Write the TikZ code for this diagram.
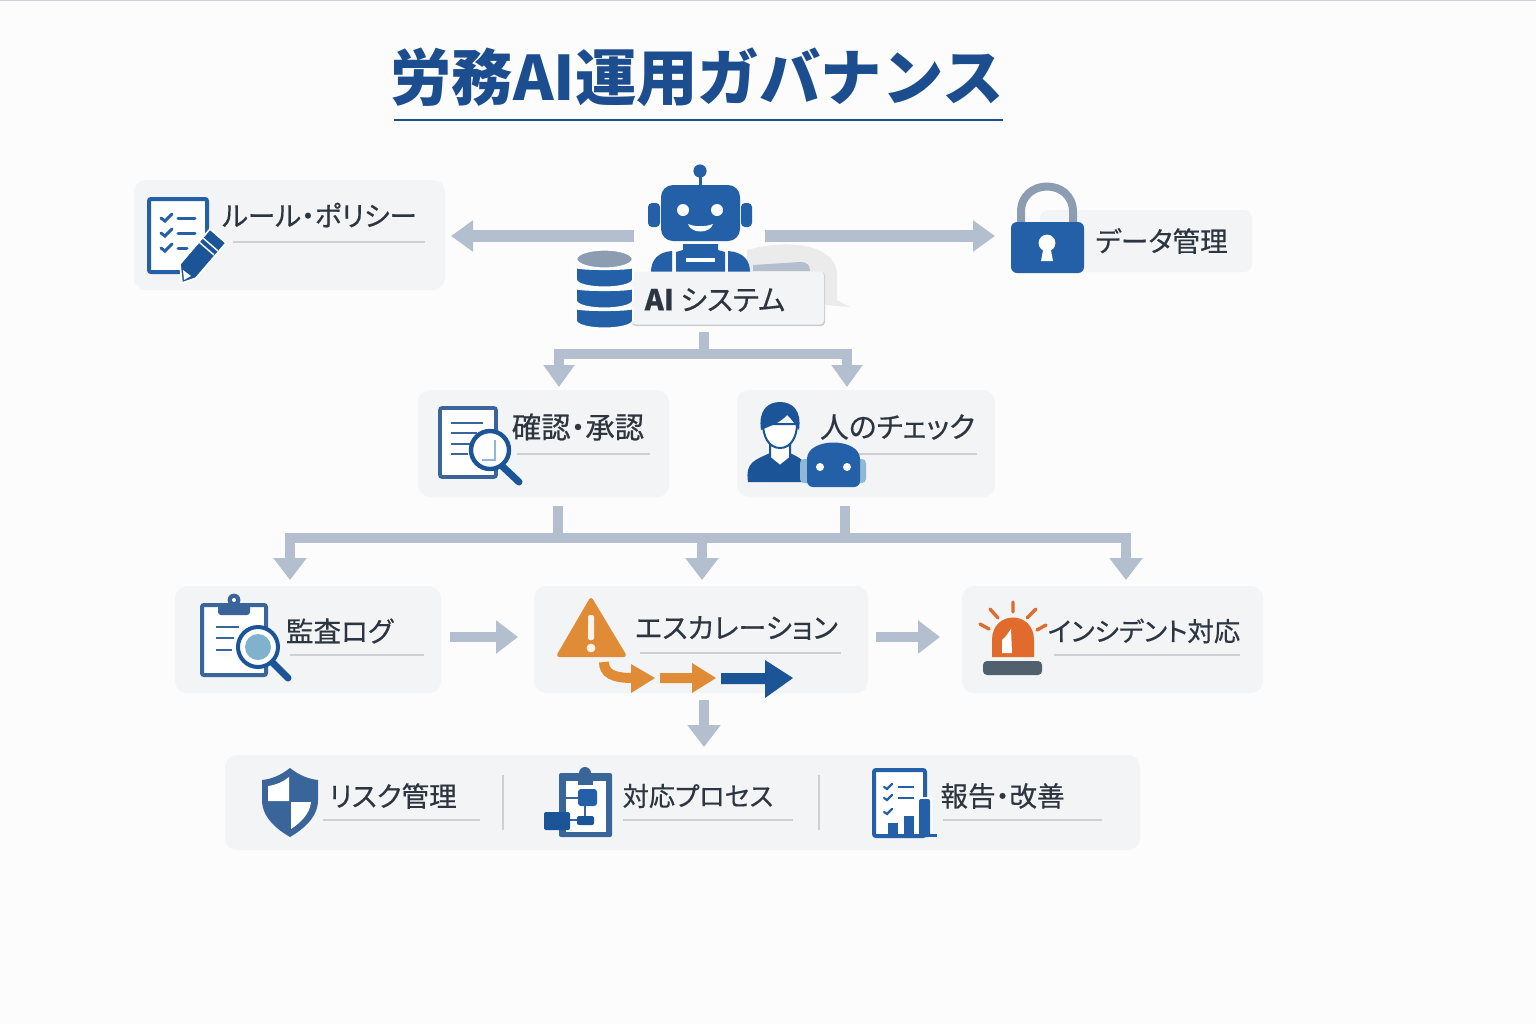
\documentclass[tikz,border=0pt]{standalone}
\usepackage{xcolor}
\usepackage{fontspec}
\usepackage{tikz}
\usetikzlibrary{arrows.meta}
\setmainfont{Noto Sans CJK JP}
\newfontfamily\capfont{Noto Sans CJK JP}[FakeBold=0.4,RawFeature={+palt}]

\definecolor{titleblue}{HTML}{1C4E8F}
\definecolor{robotblue}{HTML}{2360A8}
\definecolor{darkblue}{HTML}{1B5597}
\definecolor{slateblue}{HTML}{3A659A}
\definecolor{paleblue}{HTML}{8FB8D6}
\definecolor{panelgray}{HTML}{F3F4F6}
\definecolor{flowgray}{HTML}{B3BFCE}
\definecolor{steelgray}{HTML}{8C9DB2}
\definecolor{rulegray}{HTML}{CDD1D6}
\definecolor{inkgray}{HTML}{2D3640}
\definecolor{warnorange}{HTML}{E08C37}
\definecolor{sirenred}{HTML}{E06B2D}
\definecolor{basegray}{HTML}{50606F}

\tikzset{
  panel/.style={rectangle, rounded corners=6pt, fill=panelgray, inner sep=0pt},
  capt/.style={text=inkgray, inner sep=0pt, font=\capfont\fontsize{#1pt}{16pt}\selectfont},
  capt/.default=13.8,
  rulel/.style={draw=rulegray, line width=0.6pt},
  bar/.style={draw=flowgray, line width=5pt},
  flow/.style={draw=flowgray, line width=5pt, -{Triangle[length=11pt,width=16pt]}},
  flowtop/.style={draw=flowgray, line width=5pt, -{Triangle[length=11pt,width=15pt]}},
  flowbig/.style={draw=flowgray, line width=6pt, -{Triangle[length=11pt,width=15pt]}},
  tick/.style={draw=robotblue, line width=1.5pt, line cap=round},
}

\begin{document}
\begin{tikzpicture}[x=0.5pt,y=-0.5pt]
\useasboundingbox (0,0) rectangle (1536,1024);
\fill[white!99!black] (0,0) rectangle (1536,1024);
\draw[rulegray, line width=0.5pt] (0,0.5) -- (1536,0.5);

% Title
\node[text=titleblue, inner sep=0pt, font=\fontsize{30.7pt}{36pt}\selectfont\bfseries] (title) at (697,77) {労務AI運用ガバナンス};
\draw[titleblue, line width=1pt] (394,120) -- (1003,120);

% Panels
\node[panel, minimum width=155.5pt, minimum height=55pt] (rules) at (289.5,235) {};
\node[panel, minimum width=125.5pt, minimum height=53.5pt] (check) at (543.5,443.5) {};
\node[panel, minimum width=129pt, minimum height=53.5pt] (human) at (866,443.5) {};
\node[panel, minimum width=133pt, minimum height=53.5pt] (logs) at (308,639.5) {};
\node[panel, minimum width=167pt, minimum height=53.5pt] (escal) at (701,639.5) {};
\node[panel, minimum width=150.5pt, minimum height=53.5pt] (incid) at (1112.5,639.5) {};
\node[panel, minimum width=457.5pt, minimum height=47.5pt] (bottom) at (682.5,802.5) {};
\node[panel, rounded corners=4pt, minimum width=106pt, minimum height=31pt] (data) at (1146,241) {};

% Labels
\node[capt] (trules) at (319.5,215) {ルール・ポリシー};
\node[capt] (tdata) at (1161.5,241) {データ管理};
\node[capt=14.7] (tcheck) at (578,427) {確認・承認};
\node[capt=14.4] (thuman) at (897.5,427) {人のチェック};
\node[capt] (tlogs) at (339.5,631) {監査ログ};
\node[capt=14.1] (tescal) at (736.5,628) {エスカレーション};
\node[capt=13.2] (tincid) at (1144,631) {インシデント対応};
\node[capt] (trisk) at (393,796) {リスク管理};
\node[capt=13.1] (tproc) at (698,796) {対応プロセス};
\node[capt] (trepo) at (1002.5,796) {報告・改善};

% Label rules
\draw[rulel] (233,242) -- (425,242);
\draw[rulel] (517,454) -- (650,454);
\draw[rulel] (815,454) -- (977,454);
\draw[rulel] (290,655) -- (424,655);
\draw[rulel] (640,653) -- (841,653);
\draw[rulel] (1054,655) -- (1240,655);
\draw[rulel] (323,820) -- (480,820);
\draw[rulel] (623,820) -- (793,820);
\draw[rulel] (943,820) -- (1102,820);
\draw[rulel] (503,775) -- (503,830);
\draw[rulel] (819,775) -- (819,830);

% Coordinates of the connectors
\coordinate (robl) at (634,236);
\coordinate (robr) at (765,236);
\coordinate (rulein) at (451,236);
\coordinate (datain) at (995,236);
\coordinate (aiout) at (704,332);
\coordinate (busa) at (704,354);
\coordinate (chkin) at (559,387);
\coordinate (humin) at (847,387);
\coordinate (chkout) at (558,506);
\coordinate (humout) at (845,506);
\coordinate (busb) at (558,538);
\coordinate (busc) at (845,538);
\coordinate (busm) at (702,538);
\coordinate (login) at (290,580);
\coordinate (escin) at (702,580);
\coordinate (incin) at (1126,580);
\coordinate (logr) at (450,637);
\coordinate (escl) at (518,637);
\coordinate (escr) at (876,637);
\coordinate (incl) at (940,637);
\coordinate (escd) at (704,700);
\coordinate (botin) at (704,747);

% Edges
\draw[flowbig] (robl) -- (rulein);
\draw[flowbig] (robr) -- (datain);
\draw[bar] (aiout) -- (busa);
\draw[flowtop] (busa) -| (chkin);
\draw[flowtop] (busa) -| (humin);
\draw[bar] (chkout) -- (busb);
\draw[bar] (humout) -- (busc);
\draw[flow] (busb) -| (login);
\draw[bar] (busb) -- (busc);
\draw[flow] (busc) -| (incin);
\draw[flow] (busm) -- (escin);
\draw[flow] (logr) -- (escl);
\draw[flow] (escr) -- (incl);
\draw[flow] (escd) -- (botin);

% AI system: pale shape behind, robot, box, database
\fill[black!8] (747,250) .. controls (790,238) and (837,245) .. (837,275) -- (837,300) -- (850,307) -- (825,305) -- (747,290) -- cycle;
\fill[flowgray] (753,265) -- (800,262) .. controls (808,262) and (810,266) .. (810,271) -- (753,271) -- cycle;
\fill[robotblue] (700,171) circle[radius=3.3pt];
\draw[robotblue, line width=1.5pt] (700,171) -- (700,186);
\fill[robotblue, rounded corners=2pt] (648,203) rectangle (660,227);
\fill[robotblue, rounded corners=2pt] (741,203) rectangle (752,227);
\fill[robotblue, rounded corners=6pt] (661,185) rectangle (740,241);
\fill[white] (683,210) circle[radius=3pt];
\fill[white] (717,210) circle[radius=3pt];
\fill[white] (688,224) .. controls (695,227) and (705,227) .. (713,224) .. controls (710,234) and (691,234) .. (688,224) -- cycle;
\fill[robotblue] (683,244) -- (718,244) -- (718,250) -- (725,252) -- (725,272) -- (676,272) -- (676,252) -- (683,250) -- cycle;
\fill[white] (686,258) rectangle (715,262);
\fill[robotblue] (651,272) .. controls (651,260) and (658,252) .. (672,251) -- (672,272) -- cycle;
\fill[robotblue] (750,272) .. controls (750,260) and (743,252) .. (728,251) -- (728,272) -- cycle;
\node[rectangle, rounded corners=2pt, fill=black!20, minimum width=96.5pt, minimum height=27pt, inner sep=0pt] (aishadow) at (728.5,299) {};
\node[panel, rounded corners=2pt, minimum width=96pt, minimum height=26.5pt] (ai) at (728,298) {};
\node[capt=14.4] (tai) at (715,300) {\textbf{AI} システム};
\foreach \yb in {308,288,267} {
  \fill[robotblue, draw=white, line width=0.8pt] (576,\yb) .. controls (576,\yb+3) and (633,\yb+3) .. (633,\yb) -- (633,\yb+12) .. controls (633,\yb+23) and (576,\yb+23) .. (576,\yb+12) -- cycle;
}
\fill[steelgray, draw=white, line width=0.8pt] (604.5,259) ellipse[x radius=14pt, y radius=4.6pt];

% Rule icon
\fill[white, draw=robotblue, line width=2pt, rounded corners=1pt] (149,199) rectangle (207,272);
\foreach \yc in {218,233,248} {
  \draw[tick] (161,\yc) -- (165,\yc+3) -- (172,\yc-4);
}
\draw[tick] (178,218) -- (195,218);
\draw[tick] (178,233) -- (195,233);
\draw[tick] (178,248) -- (187,248);
\fill[panelgray] (209,240) -- (212,276) -- (186,276) -- cycle;
\fill[darkblue, draw=white, line width=0.8pt] (210,229) -- (226,243) -- (196,278) -- (182,283) -- (180,264) -- cycle;
\draw[white, line width=0.7pt] (199,242) -- (214,255) (203,238) -- (218,251);
\fill[white] (183,270) -- (191,276) -- (184,280) -- cycle;

% Lock icon
\draw[steelgray, line width=4pt] (1021,222) -- (1021,212) .. controls (1021,178) and (1073,178) .. (1073,212) -- (1073,222);
\fill[robotblue, rounded corners=3pt] (1011,222) rectangle (1084,273);
\fill[white] (1047,243) circle[radius=4.2pt];
\fill[white] (1044,245) -- (1050,245) -- (1053,261) -- (1041,261) -- cycle;

% Check icon
\fill[white, draw=slateblue, line width=1.8pt, rounded corners=1pt] (440,408) rectangle (496,477);
\draw[slateblue, line width=1.2pt] (451,423) -- (483,423) (451,433) -- (477,433) (451,444) -- (470,444) (451,454) -- (468,454);
\draw[darkblue, line width=3.5pt, line cap=round] (502,466) -- (519,482);
\fill[white, draw=darkblue, line width=2.2pt] (490,450) circle[radius=9.5pt];
\draw[paleblue, line width=1.2pt] (495,440) -- (495,460) -- (482,460);

% Person with small robot
\fill[darkblue] (748,482) .. controls (745,462) and (755,460) .. (770,453) -- (790,453) .. controls (800,458) and (810,462) .. (812,482) -- cycle;
\fill[white, draw=darkblue, line width=1pt] (770,445) -- (790,445) -- (790,458) -- (780,466) -- (770,458) -- cycle;
\fill[white, draw=darkblue, line width=1pt] (780,448) .. controls (768,448) and (763,435) .. (763,424) -- (797,424) .. controls (797,435) and (792,448) .. (780,448) -- cycle;
\fill[darkblue] (761,430) .. controls (758,410) and (768,402) .. (780,402) .. controls (792,402) and (802,410) .. (799,430) .. controls (795,425) and (793,420) .. (787,415) .. controls (780,423) and (770,426) .. (761,430) -- cycle;
\fill[paleblue, rounded corners=2pt] (800,459) rectangle (866,483);
\fill[robotblue, rounded corners=3pt] (807,487) -- (807,465) .. controls (807,437) and (860,437) .. (860,465) -- (860,487) -- cycle;
\fill[white] (820,467) circle[radius=2pt];
\fill[white] (847,467) circle[radius=2pt];

% Log icon
\fill[white, draw=slateblue, line width=2pt, rounded corners=1pt] (202,605) rectangle (266,675);
\fill[slateblue, rounded corners=1.5pt] (218,603) rectangle (250,615);
\fill[slateblue] (234,600) circle[radius=3.2pt];
\fill[white] (234,600) circle[radius=1pt];
\draw[slateblue, line width=1.3pt] (216,627) -- (239,627) (216,638) -- (234,638) (216,650) -- (232,650);
\draw[darkblue, line width=3.5pt, line cap=round] (272,662) -- (288,678);
\fill[white, draw=darkblue, line width=2pt] (258,647) circle[radius=10pt];
\fill[paleblue!90!teal] (258,647) circle[radius=6.5pt];

% Warning icon with arrows
\fill[warnorange, draw=warnorange, line width=2pt, line join=round] (591,600) -- (624,655) -- (559,655) -- cycle;
\fill[white!90!warnorange, rounded corners=1pt] (588,615) rectangle (594,640);
\fill[white!90!warnorange] (591,648) circle[radius=2.2pt];
\draw[warnorange, line width=5pt] (604,662) .. controls (604,673) and (612,678) .. (633,678);
\fill[warnorange] (631,664) -- (655,678) -- (631,693) -- cycle;
\fill[warnorange] (660,673) -- (692,673) -- (692,663) -- (716,678) -- (692,693) -- (692,683) -- (660,683) -- cycle;
\fill[darkblue] (721,673) -- (765,673) -- (765,660) -- (793,678) -- (765,698) -- (765,684) -- (721,684) -- cycle;

% Siren icon
\fill[sirenred] (992,657) -- (992,640) .. controls (992,610) and (1034,610) .. (1034,640) -- (1034,657) -- cycle;
\fill[white] (1002,653) -- (1002,640) -- (1006,636) -- (1011,629) -- (1012,653) -- cycle;
\fill[basegray, rounded corners=2pt] (983,661) rectangle (1042,675);
\draw[sirenred, line width=1.7pt, line cap=round] (1013,602) -- (1013,612) (990,609) -- (998,618) (1036,609) -- (1027,618) (980,624) -- (989,629) (1046,625) -- (1037,630);

% Shield icon
\fill[slateblue] (290,768) .. controls (281,775) and (272,779) .. (262,780) -- (262,800) .. controls (262,818) and (278,830) .. (290,837) .. controls (302,830) and (318,818) .. (318,800) -- (318,780) .. controls (308,779) and (299,775) .. (290,768) -- cycle;
\fill[white] (268,786) .. controls (276,785) and (283,782) .. (289,777) -- (289,801) -- (268,801) -- cycle;
\fill[white] (291,802) -- (311,802) .. controls (310,814) and (300,823) .. (291,829) -- cycle;

% Process icon
\fill[slateblue, rounded corners=1pt] (559,773) rectangle (612,837);
\fill[slateblue] (585,773) circle[radius=3pt];
\fill[white] (566,781) rectangle (606,832);
\fill[slateblue] (578,781) rectangle (593,785);
\draw[slateblue, line width=1pt] (566,798) -- (578,798) (585,806) -- (585,816) (570,820) -- (577,820);
\fill[robotblue, rounded corners=1.5pt] (578,789) rectangle (597,806);
\fill[darkblue, rounded corners=1pt] (577,816) rectangle (594,825);
\fill[darkblue, rounded corners=1pt] (544,812) rectangle (570,830);

% Report icon
\fill[white, draw=robotblue, line width=2pt, rounded corners=1pt] (874,770) rectangle (925,836);
\foreach \yc in {787,798,812} {
  \draw[robotblue, line width=1.1pt, line cap=round] (884,\yc) -- (887,\yc+2) -- (892,\yc-3);
}
\draw[robotblue, line width=1.1pt] (898,787) -- (914,787) (898,798) -- (914,798);
\fill[white] (917,797) rectangle (932,832);
\fill[robotblue] (888,823) rectangle (898,837);
\fill[robotblue] (904,816) rectangle (914,837);
\fill[robotblue, rounded corners=1pt] (919,799) rectangle (930,837);
\fill[robotblue] (873,834) rectangle (937,837);
\end{tikzpicture}
\end{document}
